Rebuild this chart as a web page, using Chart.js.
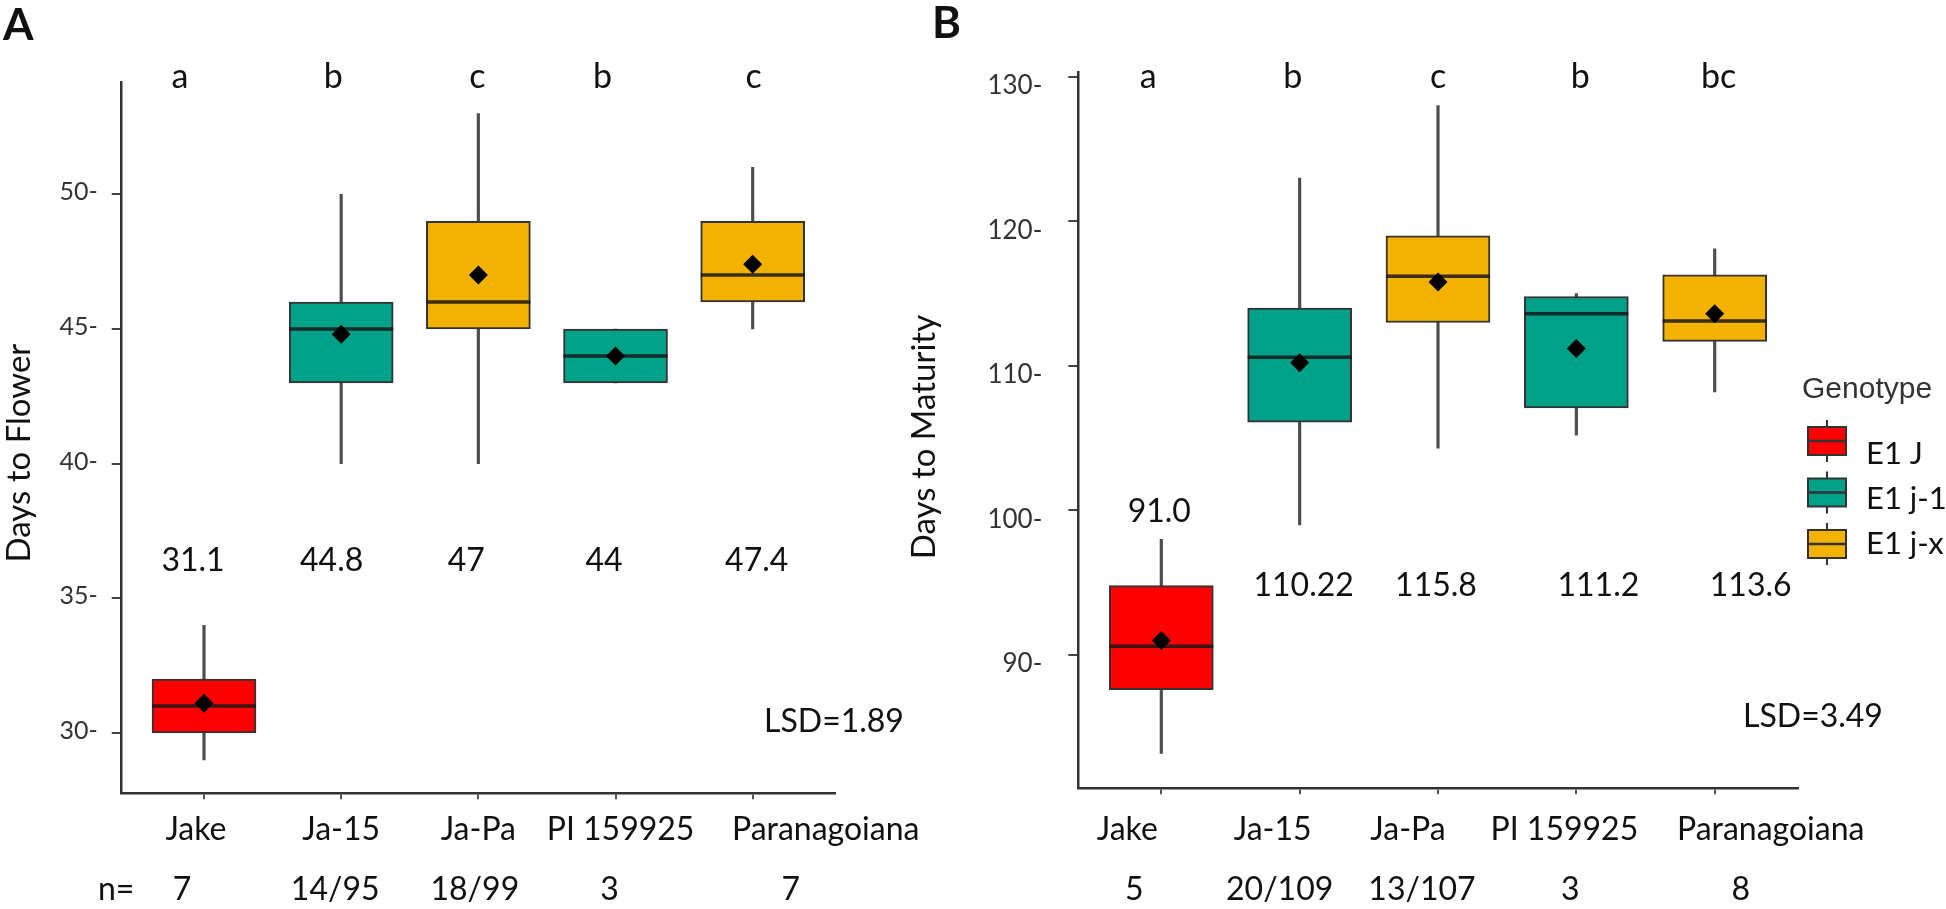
<!DOCTYPE html>
<html>
<head>
<meta charset="utf-8">
<script src="https://cdn.jsdelivr.net/npm/chart.js@4.4.1/dist/chart.umd.min.js"></script>
<style>
  html, body { margin: 0; padding: 0; background: #fff; }
  #wrap { position: relative; width: 1946px; height: 909px; }
  canvas { position: absolute; left: 0; top: 0; }
</style>
</head>
<body>
<div id="wrap">
  <canvas id="flower" width="1946" height="909"></canvas>
  <canvas id="maturity" width="1946" height="909"></canvas>
</div>
<script>
const cultivars = ['Jake', 'Ja-15', 'Ja-Pa', 'PI 159925', 'Paranagoiana'];
const cultivarGenotype = [0, 1, 2, 1, 2];
const genotypes = ['E1 J', 'E1 j-1', 'E1 j-x'];
const genotypeColors = ['#ff0000', '#00a189', '#f3b100'];

// panel A - days to flower
const flowerMin = [29, 40, 40, 43, 45];
const flowerQ1 = [30, 43, 45, 43, 46];
const flowerMedian = [31, 45, 46, 44, 47];
const flowerQ3 = [32, 46, 49, 45, 49];
const flowerMax = [34, 50, 53, 45, 51];
const flowerMean = [31.1, 44.8, 47, 44, 47.4];
const flowerMeanLabels = ['31.1', '44.8', '47', '44', '47.4'];
const flowerLetters = ['a', 'b', 'c', 'b', 'c'];
const flowerN = ['7', '14/95', '18/99', '3', '7'];
const flowerTicks = [30, 35, 40, 45, 50];
const flowerLSD = 1.89;

// panel B - days to maturity
const maturityMin = [83.2, 99, 104.3, 105.2, 108.2];
const maturityQ1 = [87.6, 106.1, 113, 107.1, 111.7];
const maturityMedian = [90.6, 110.6, 116.2, 113.6, 113.1];
const maturityQ3 = [94.8, 114, 119, 114.8, 116.3];
const maturityMax = [98, 123, 128, 115, 118.1];
const maturityMean = [91.0, 110.22, 115.8, 111.2, 113.6];
const maturityMeanLabels = ['91.0', '110.22', '115.8', '111.2', '113.6'];
const maturityLetters = ['a', 'b', 'c', 'b', 'bc'];
const maturityN = ['5', '20/109', '13/107', '3', '8'];
const maturityTicks = [90, 100, 110, 120, 130];
const maturityLSD = 3.49;

Chart.defaults.font.family = 'Lato';
Chart.defaults.animation = false;

function boxDatasets(lo, q1, med, q3, hi, mean) {
    const fills = cultivarGenotype.map(g => genotypeColors[g]);
    const pts = arr => arr.map((v, i) => ({ x: i + 1, y: v }));
    return [
        {
            type: 'bar',
            data: lo.map((v, i) => ({ x: i + 1, y: [v, hi[i]] })),
            backgroundColor: '#4d4d4d',
            barThickness: 2.5,
            grouped: false,
            order: 4
        },
        {
            type: 'bar',
            data: q1.map((v, i) => ({ x: i + 1, y: [v, q3[i]] })),
            backgroundColor: fills,
            borderColor: '#333',
            borderWidth: 2,
            borderSkipped: false,
            barThickness: 104,
            grouped: false,
            order: 3
        },
        {
            type: 'scatter',
            data: pts(med),
            pointStyle: 'line',
            pointRadius: 52,
            pointBorderWidth: 3.5,
            pointBorderColor: 'rgba(25,25,25,0.85)',
            order: 2
        },
        {
            type: 'scatter',
            data: pts(mean),
            pointStyle: 'rectRot',
            pointRadius: 9.5,
            pointBackgroundColor: '#000',
            pointBorderWidth: 0,
            order: 1
        }
    ];
}

function panelText(o) {
    return {
        id: 'panelText',
        afterDraw(chart) {
            const ctx = chart.ctx;
            const xs = chart.scales.x;
            const at = (i, nudge) => xs.getPixelForValue(i + 1) + nudge[i];
            ctx.save();
            ctx.fillStyle = '#111';
            ctx.textAlign = 'center';
            ctx.textBaseline = 'alphabetic';

            ctx.font = '34px Lato';
            o.letters.forEach((t, i) => ctx.fillText(t, at(i, o.letterNudge), o.letterY));

            ctx.font = '32px Lato';
            o.means.forEach((t, i) => ctx.fillText(t, at(i, o.meanNudge), o.meanY[i]));
            cultivars.forEach((t, i) => ctx.fillText(t, at(i, o.nameNudge), o.nameY));
            o.n.forEach((t, i) => ctx.fillText(t, at(i, o.nNudge), o.nY));

            ctx.textAlign = 'left';
            ctx.fillText('LSD=' + o.lsd.toFixed(2), o.lsdX, o.lsdY);
            if (o.nPrefixX) ctx.fillText('n=', o.nPrefixX, o.nY);

            ctx.font = 'bold 44px Lato';
            ctx.fillText(o.panel, o.panelX, o.panelY);

            ctx.translate(o.titleX, o.titleY);
            ctx.rotate(-Math.PI / 2);
            ctx.textAlign = 'center';
            ctx.font = '33px Lato';
            ctx.fillText(o.title, 0, 0);
            ctx.restore();
        }
    };
}

const genotypeLegend = {
    id: 'genotypeLegend',
    afterDraw(chart) {
        const ctx = chart.ctx;
        ctx.save();
        ctx.fillStyle = '#333';
        ctx.textAlign = 'left';
        ctx.textBaseline = 'alphabetic';
        ctx.font = '30px "Liberation Sans"';
        ctx.fillText('Genotype', 1802, 398);
        genotypes.forEach((g, i) => {
            const top = 427 + i * 51.5, left = 1808, w = 38, h = 28, cx = left + w / 2;
            ctx.strokeStyle = '#333';
            ctx.lineWidth = 2;
            ctx.beginPath();
            ctx.moveTo(cx, top - 7);
            ctx.lineTo(cx, top + h + 7);
            ctx.stroke();
            ctx.fillStyle = genotypeColors[i];
            ctx.fillRect(left, top, w, h);
            ctx.strokeRect(left, top, w, h);
            ctx.lineWidth = 2.5;
            ctx.beginPath();
            ctx.moveTo(left, top + h / 2);
            ctx.lineTo(left + w, top + h / 2);
            ctx.stroke();
            ctx.fillStyle = '#111';
            ctx.font = '31px Lato';
            ctx.fillText(g, 1866, 464 + i * 45);
        });
        ctx.restore();
    }
};

function makeChart(id, d) {
    return new Chart(document.getElementById(id), {
        type: 'bar',
        data: { datasets: boxDatasets(d.lo, d.q1, d.med, d.q3, d.hi, d.mean) },
        options: {
            responsive: false,
            layout: { padding: d.padding },
            plugins: { legend: { display: false }, tooltip: { enabled: false } },
            scales: {
                x: {
                    type: 'linear',
                    min: 0.4,
                    max: 5.6,
                    offset: false,
                    afterBuildTicks: s => { s.ticks = cultivars.map((c, i) => ({ value: i + 1 })); },
                    afterFit: s => { s.height = 20; },
                    border: { display: true, color: '#333', width: 2.5 },
                    grid: { offset: false, drawOnChartArea: false, drawTicks: true, tickLength: 6, color: '#555', lineWidth: 2 },
                    ticks: { display: false }
                },
                y: {
                    min: d.yMin,
                    max: d.yMax,
                    afterBuildTicks: s => { s.ticks = d.ticks.map(v => ({ value: v })); },
                    afterFit: s => { s.width = 100; },
                    border: { display: true, color: '#333', width: 2.5 },
                    grid: { drawOnChartArea: false, drawTicks: true, tickLength: 10, color: '#444', lineWidth: 2 },
                    ticks: {
                        callback: v => v + '-',
                        color: '#333',
                        font: { size: d.tickSize },
                        padding: d.tickPad,
                        labelOffset: d.labelOffset
                    }
                }
            }
        },
        plugins: d.plugins
    });
}

makeChart('flower', {
    lo: flowerMin, q1: flowerQ1, med: flowerMedian, q3: flowerQ3, hi: flowerMax, mean: flowerMean,
    yMin: 27.76, yMax: 54.17, ticks: flowerTicks,
    tickSize: 25, tickPad: 14, labelOffset: -2,
    padding: { left: 21.7, right: 1111, top: 82, bottom: 95.7 },
    plugins: [panelText({
        letters: flowerLetters, letterNudge: [-24, -8, -1, -13, 1], letterY: 88,
        means: flowerMeanLabels, meanNudge: [-11, -9.5, -12, -11.5, 4], meanY: [571, 571, 571, 571, 571],
        nameNudge: [-8, 0, 0, 5, 73], nameY: 840,
        n: flowerN, nNudge: [-22, -6, -3.5, -6, 38], nY: 900, nPrefixX: 98,
        lsd: flowerLSD, lsdX: 764, lsdY: 732,
        panel: 'A', panelX: 3, panelY: 40,
        title: 'Days to Flower', titleX: 30, titleY: 453
    })]
});

makeChart('maturity', {
    lo: maturityMin, q1: maturityQ1, med: maturityMedian, q3: maturityQ3, hi: maturityMax, mean: maturityMean,
    yMin: 80.78, yMax: 130.33, ticks: maturityTicks,
    tickSize: 26, tickPad: 26, labelOffset: 9,
    padding: { left: 978.3, right: 148.3, top: 72, bottom: 100.7 },
    plugins: [panelText({
        letters: maturityLetters, letterNudge: [-13, -7, 0, 4, 4], letterY: 88,
        means: maturityMeanLabels, meanNudge: [-2, 4, -2, 22, 36], meanY: [522, 596, 596, 596, 596],
        nameNudge: [-34, -27, -30, -12, 56], nameY: 840,
        n: maturityN, nNudge: [-27, -20, -16, -6, 26], nY: 900,
        lsd: maturityLSD, lsdX: 1743, lsdY: 727,
        panel: 'B', panelX: 932, panelY: 38,
        title: 'Days to Maturity', titleX: 935, titleY: 437
    }), genotypeLegend]
});
</script>
</body>
</html>
